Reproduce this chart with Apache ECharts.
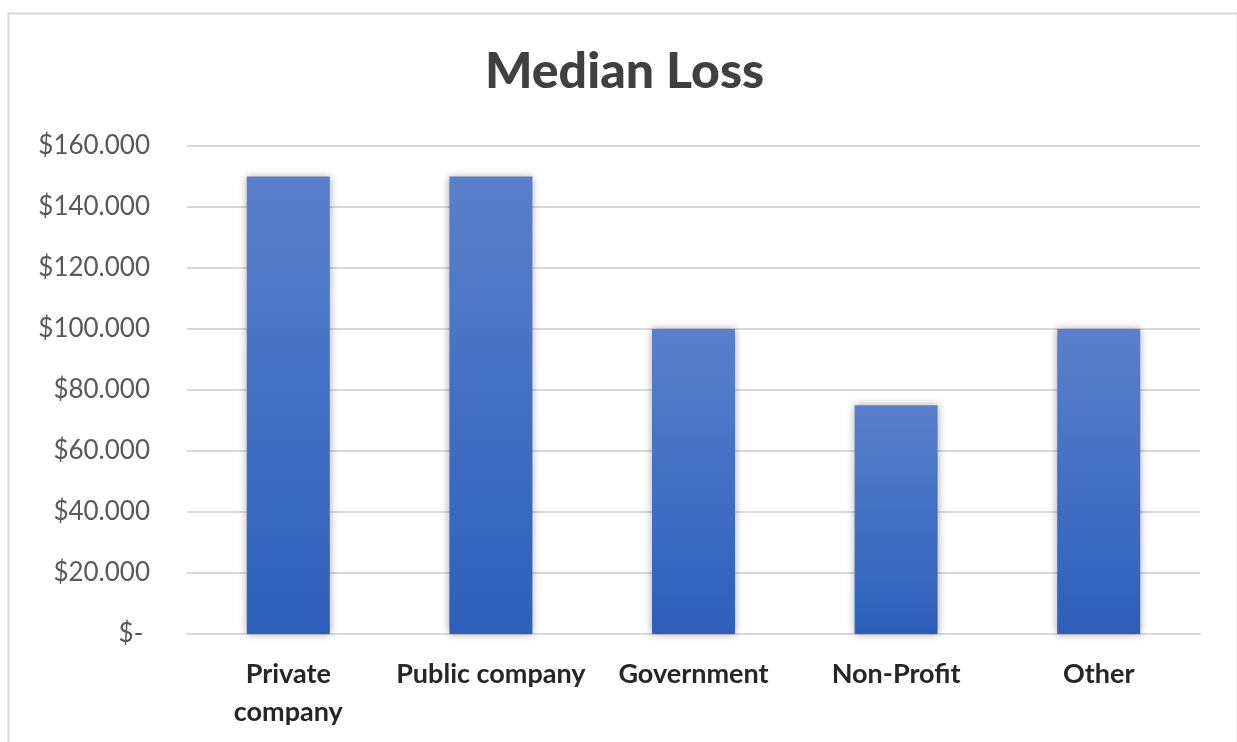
<!DOCTYPE html>
<html>
<head>
<meta charset="utf-8">
<title>Median Loss</title>
<script src="https://cdn.jsdelivr.net/npm/echarts@6/dist/echarts.min.js"></script>
<style>
  html, body { margin: 0; padding: 0; background: #ffffff; }
  #chart { width: 1237px; height: 742px; }
</style>
</head>
<body>
<div id="chart"></div>
<script>
// Median loss by organisation type
const categories = ['Private\ncompany', 'Public company', 'Government', 'Non-Profit', 'Other'];
const medianLoss = [150000, 150000, 100000, 75000, 100000];
const yTicks = { min: 0, max: 160000, interval: 20000 };

function money(v) {
  if (v === 0) return '$- ';
  return '$' + v.toLocaleString('en-US').replace(/,/g, '.');
}

const chart = echarts.init(document.getElementById('chart'), null, { renderer: 'canvas' });

chart.setOption({
  backgroundColor: '#ffffff',
  animation: false,
  title: {
    text: 'Median Loss',
    left: 480,
    top: 42,
    textStyle: {
      fontFamily: 'Lato',
      fontWeight: 900,
      fontSize: 50,
      color: '#404040'
    }
  },
  graphic: [{
    type: 'rect',
    left: 6,
    top: 11,
    shape: { width: 1229, height: 800 },
    style: { fill: 'none', stroke: '#d9d9d9', lineWidth: 2 },
    silent: true
  }],
  grid: { left: 187, right: 37, top: 146, bottom: 108 },
  xAxis: {
    type: 'category',
    data: categories,
    axisTick: { show: false },
    axisLine: { show: true, lineStyle: { color: '#d9d9d9', width: 2 } },
    axisLabel: {
      interval: 0,
      margin: 21,
      fontFamily: 'Lato',
      fontWeight: 'bold',
      fontSize: 27,
      lineHeight: 38,
      color: '#262626'
    }
  },
  yAxis: {
    type: 'value',
    min: yTicks.min,
    max: yTicks.max,
    interval: yTicks.interval,
    axisLine: { show: false },
    axisTick: { show: false },
    splitLine: { lineStyle: { color: '#d9d9d9', width: 2 } },
    axisLabel: {
      margin: 37,
      fontFamily: 'Lato',
      fontSize: 26,
      color: '#595959',
      formatter: money
    }
  },
  series: [{
    type: 'bar',
    data: medianLoss,
    barWidth: 83,
    itemStyle: {
      color: new echarts.graphic.LinearGradient(0, 0, 0, 1, [
        { offset: 0, color: '#5a80cc' },
        { offset: 1, color: '#2c5fbb' }
      ]),
      shadowBlur: 8,
      shadowColor: 'rgba(0,0,0,0.35)',
      shadowOffsetX: 0,
      shadowOffsetY: 0
    }
  }]
});
</script>
</body>
</html>
